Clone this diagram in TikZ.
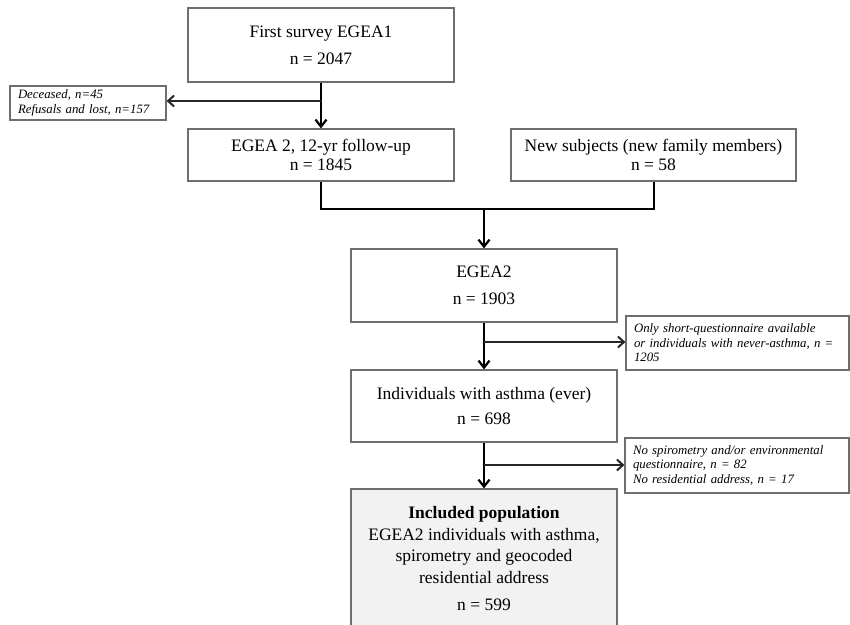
\documentclass[tikz,border=0pt]{standalone}
\usepackage{fontspec}
\setmainfont{Liberation Serif}
\usetikzlibrary{arrows.meta}
\definecolor{boxgray}{HTML}{6E6E6E}
\definecolor{fillgray}{HTML}{F2F2F2}
\begin{document}
\begin{tikzpicture}[x=1pt,y=-1pt,
  box/.style={draw=boxgray,line width=1.2pt,rectangle,inner sep=0pt,align=center,
    font=\fontsize{17.5}{27}\selectfont},
  tightbox/.style={box,font=\fontsize{17.5}{19.5}\selectfont},
  sidebox/.style={draw=boxgray,line width=1.2pt,rectangle,inner xsep=8pt,inner ysep=0pt,
    align=left,font=\fontsize{12.8}{14.6}\selectfont\itshape},
  mainarrow/.style={line width=2pt,-{Straight Barb[length=7pt,width=11pt,line width=2.2pt]}},
  mainline/.style={line width=2pt},
  sidearrow/.style={line width=1.3pt,draw=black!85,-{Straight Barb[length=6pt,width=11pt,line width=2pt]}}
]
\useasboundingbox (0,0) rectangle (850,624);
\clip (0,0) rectangle (850,624);

% main boxes
\node[box,minimum width=266pt,minimum height=74pt] (b1) at (321,45)
  {First survey EGEA1\\n = 2047};
\node[tightbox,minimum width=266pt,minimum height=52pt] (b2) at (321,155)
  {EGEA 2, 12-yr follow-up\\n = 1845};
\node[tightbox,minimum width=285pt,minimum height=52pt] (b3) at (653.5,155)
  {New subjects (new family members)\\n = 58};
\node[box,minimum width=266pt,minimum height=73pt] (b4) at (484,285.5)
  {EGEA2\\n = 1903};
\node[box,minimum width=266pt,minimum height=72pt,font=\fontsize{17.5}{25.5}\selectfont] (b5) at (484,406)
  {Individuals with asthma (ever)\\n = 698};
\node[box,fill=fillgray,minimum width=266pt,minimum height=139pt,font=\fontsize{17.5}{21.5}\selectfont] (b6) at (484,558.5)
  {\textbf{Included population}\\EGEA2 individuals with asthma,\\spirometry and geocoded\\residential address\\[5.5pt]n = 599};

% side boxes
\node[sidebox,text width=140pt,minimum height=34pt] (lb) at (88,103)
  {Deceased, n=45\\Refusals and lost, n=157};
\node[sidebox,text width=207pt,minimum height=54pt] (rb1) at (737.5,343)
  {Only short-questionnaire available\\or individuals with never-asthma, n =\\1205};
\node[sidebox,text width=208pt,minimum height=55pt] (rb2) at (737,465.5)
  {No spirometry and/or environmental\\questionnaire, n = 82\\No residential address, n = 17};

% connectors
\coordinate (j1) at (321,101);
\coordinate (m) at (484,209);
\coordinate (j2) at (484,342);
\coordinate (j3) at (484,465);

\draw[mainarrow] (b1.south) -- (b2.north);
\draw[sidearrow] (j1) -- (j1 -| lb.east);
\draw[mainline] (b2.south) -- (b2.south |- m) -- (b3.south |- m) -- (b3.south);
\draw[mainarrow] (m) -- (b4.north);
\draw[mainarrow] (b4.south) -- (b5.north);
\draw[sidearrow] (j2) -- (j2 -| rb1.west);
\draw[mainarrow] (b5.south) -- (b6.north);
\draw[sidearrow] (j3) -- (j3 -| rb2.west);
\end{tikzpicture}
\end{document}
